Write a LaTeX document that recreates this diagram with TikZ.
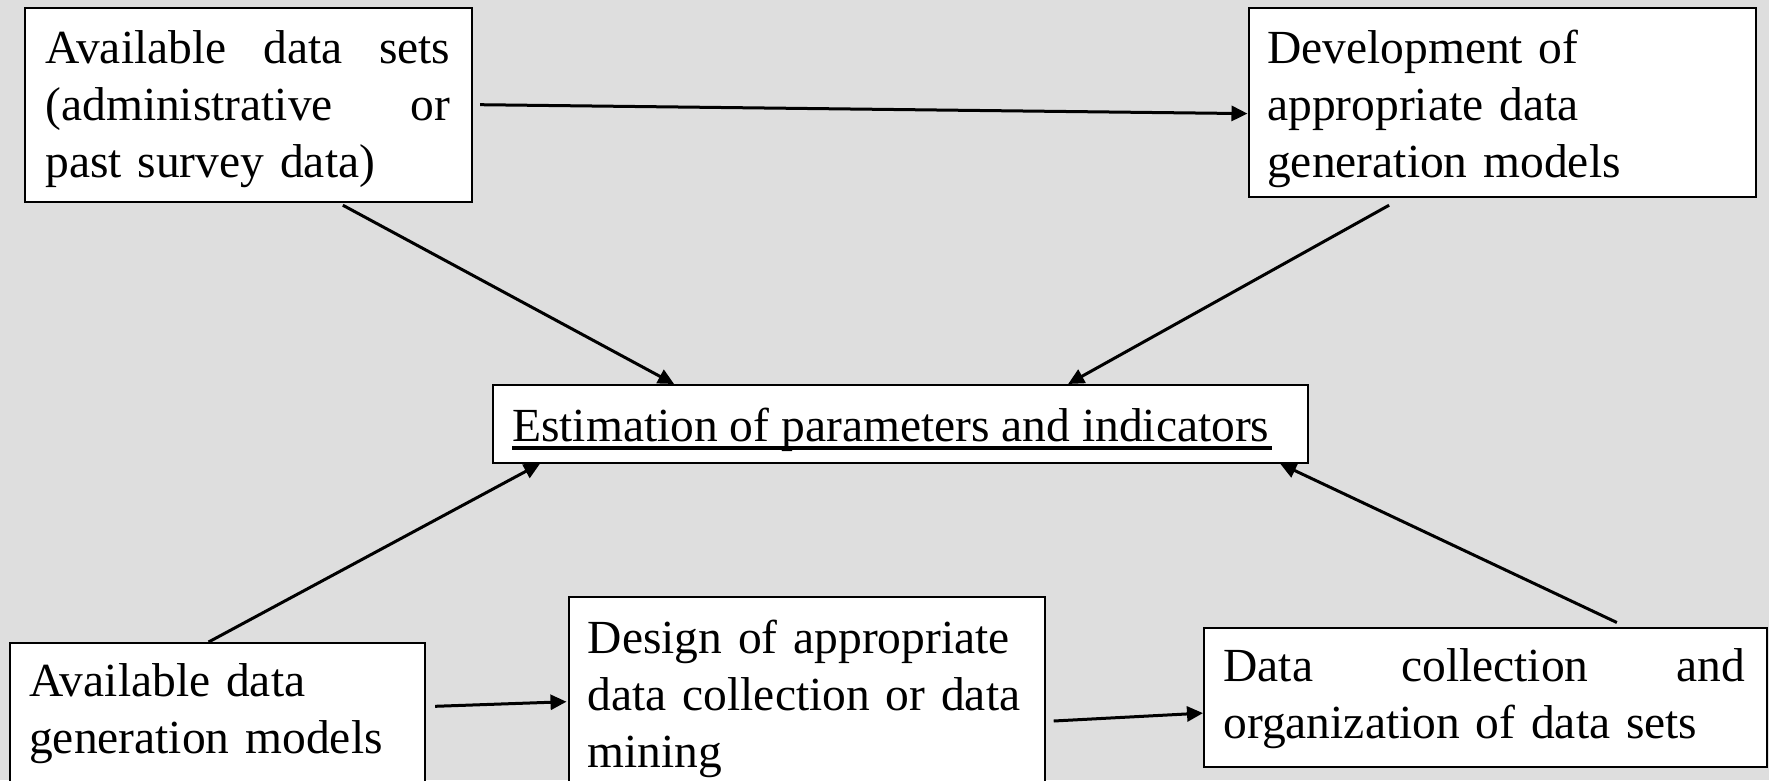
\documentclass[tikz,border=0pt]{standalone}
\usepackage{fontspec}
\setmainfont{Liberation Serif}
\usetikzlibrary{arrows.meta,backgrounds}
\definecolor{bgc}{RGB}{222,222,222}
\begin{document}
\begin{tikzpicture}[x=1pt,y=-1pt,
  box/.style={draw=black, line width=2.2pt, fill=white, rectangle, anchor=north west, inner sep=0pt},
  txt/.style={anchor=north west, inner sep=0pt, align=left, font=\fontsize{47.5}{57}\selectfont},
  conn/.style={line width=3pt, -{Triangle[length=16pt,width=15pt]}}]
\useasboundingbox (0,0) rectangle (1769,780);
\clip (0,0) rectangle (1769,780);
% boxes
\node[box, minimum width=446.5pt, minimum height=194.2pt] (b1) at (24,6.5) {};
\node[box, minimum width=507pt, minimum height=189pt] (b2) at (1247.5,7) {};
\node[box, minimum width=815pt, minimum height=77.5pt] (bc) at (491.5,384) {};
\node[box, minimum width=415pt, minimum height=160pt] (b4) at (9,642) {};
\node[box, minimum width=476pt, minimum height=200pt] (b5) at (567.5,596) {};
\node[box, minimum width=562.5pt, minimum height=139pt] (b6) at (1203,626.5) {};
% texts
\node[txt, text width=405pt] (t1) at (45.2,23.6) {\strut\hbox to 405pt{Available\hfill data\hfill sets}\\\strut\hbox to 405pt{(administrative\hfill or}\\\strut past survey data)};
\node[txt, text width=480pt] (t2) at (1267,23.6) {\strut Development of\\\strut appropriate data\\\strut generation models};
\node[anchor=base west, inner sep=0pt, font=\fontsize{47.5}{57}\selectfont] (tc) at (512,441) {Estimation of parameters and indicators};
\draw[line width=4pt] ([yshift=-6.5pt]tc.base west) -- ([yshift=-6.5pt,xshift=2pt]tc.base east);
\node[txt, text width=390pt] (t4) at (29,656.1) {\strut Available data\\\strut generation models};
\node[txt, text width=450pt] (t5) at (587.5,613.6) {\strut Design of appropriate\\\strut data collection or data\\\strut mining};
\node[txt, text width=522pt] (t6) at (1223.2,641.8) {\strut\hbox to 522pt{Data\hfill collection\hfill and}\\\strut organization of data sets};
% background and connectors (behind the boxes)
\begin{pgfonlayer}{background}
\fill[bgc] (0,0) rectangle (1769,780);
\draw[conn] ([xshift=7.5pt]b1.east) -- ([yshift=-11pt]b2.west);
\draw[conn] ([shift={(94.5pt,-2.3pt)}]b1.south) -- ([xshift=-226pt]bc.north);
\draw[conn] ([shift={(-113pt,-7pt)}]b2.south) -- ([xshift=168pt]bc.north);
\draw[conn] ([xshift=-9pt]b4.north) -- ([xshift=48.5pt]bc.south west);
\draw[conn] ([shift={(131.5pt,4pt)}]b6.north) -- ([xshift=-28.5pt]bc.south east);
\draw[conn] ([shift={(9pt,-64.3pt)}]b4.north east) -- ([shift={(-1pt,-105.7pt)}]b5.north west);
\draw[conn] ([shift={(8pt,-125pt)}]b5.north east) -- ([yshift=-16pt]b6.west);
\end{pgfonlayer}
\end{tikzpicture}
\end{document}
